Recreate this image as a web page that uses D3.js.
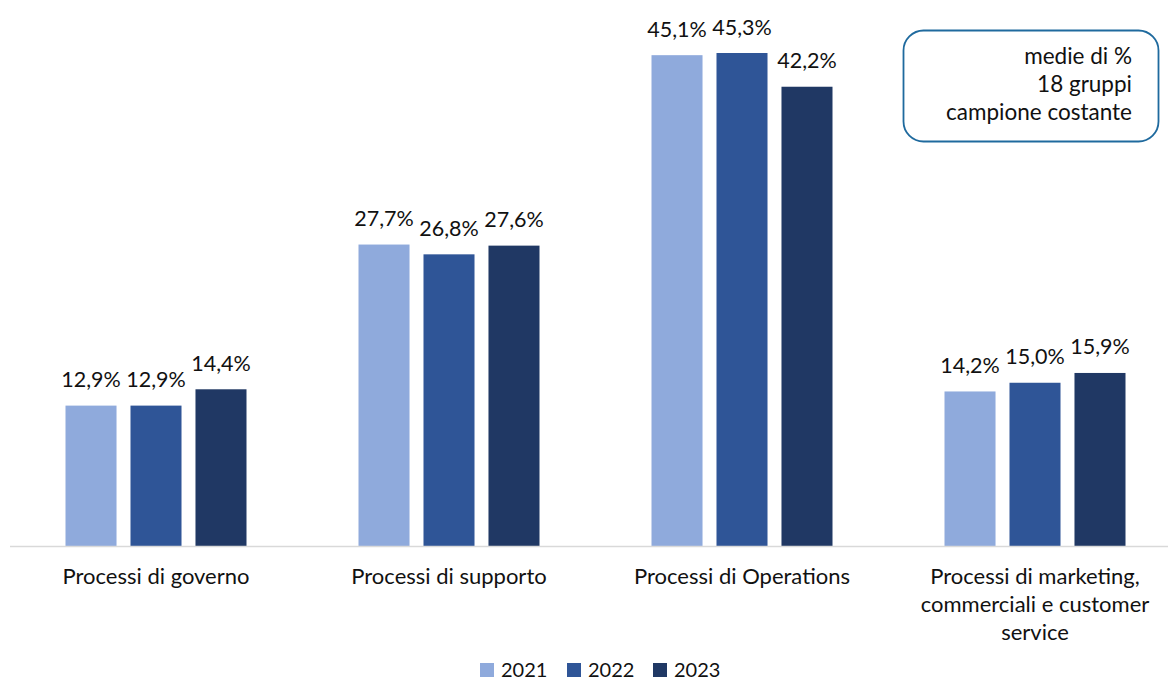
<!DOCTYPE html>
<html><head><meta charset="utf-8">
<script src="https://cdn.jsdelivr.net/npm/d3@7"></script>
<style>body{margin:0;background:#fff}svg{display:block}text{font-family:Lato,"Open Sans",sans-serif;fill:#111}</style>
</head><body><svg id="c" width="1168" height="679"></svg>
<script>
const categories = [["Processi di governo"],["Processi di supporto"],["Processi di Operations"],["Processi di marketing,","commerciali e customer","service"]];
const years = ["2021","2022","2023"];
const v2021 = [12.9, 27.7, 45.1, 14.2];
const v2022 = [12.9, 26.8, 45.3, 15.0];
const v2023 = [14.4, 27.6, 42.2, 15.9];
const colors = ["#8FAADC","#2F5597","#203864"];
const noteLines = ["medie di %","18 gruppi","campione costante"];

const series = [v2021, v2022, v2023];
const svg = d3.select("#c");
const x0 = d3.scaleBand().domain(d3.range(categories.length)).range([9.5, 1181.5]).paddingInner(0).paddingOuter(0);
const x1 = d3.scaleBand().domain(years).range([-90.5, 90.5]).paddingInner(0.215);
const y = d3.scaleLinear().domain([0, 45.3]).range([546, 53]);
const fmt = v => d3.format(".1f")(v).replace(".", ",") + "%";

const g = svg.append("g");
categories.forEach((c, i) => {
  const cx = x0(i) + x0.bandwidth()/2;
  years.forEach((yr, j) => {
    const v = series[j][i];
    const bx = cx + x1(yr);
    g.append("rect").attr("x", bx).attr("y", y(v)).attr("width", x1.bandwidth()).attr("height", y(0)-y(v)).attr("fill", colors[j]);
    g.append("text").attr("x", bx + x1.bandwidth()/2).attr("y", y(v) - 18.5).attr("text-anchor","middle").attr("font-size", 21.5).text(fmt(v));
  });
  c.forEach((line, k) => {
    g.append("text").attr("x", cx).attr("y", 584 + k*28).attr("text-anchor","middle").attr("font-size", 22).text(line);
  });
});
svg.append("line").attr("x1", 10).attr("x2", 1168).attr("y1", 546.5).attr("y2", 546.5).attr("stroke", "#d9d9d9").attr("stroke-width", 1.5);

// legend
const lg = svg.append("g");
const lx = [480, 567, 653];
years.forEach((yr, j) => {
  lg.append("rect").attr("x", lx[j]).attr("y", 663).attr("width", 14).attr("height", 14).attr("fill", colors[j]);
  lg.append("text").attr("x", lx[j] + 21).attr("y", 676.5).attr("font-size", 20).text(yr);
});

// note box
svg.append("rect").attr("x", 903.5).attr("y", 30.5).attr("width", 255).attr("height", 111).attr("rx", 20).attr("fill", "#fff").attr("stroke", "#1F6A9E").attr("stroke-width", 1.8);
noteLines.forEach((t, k) => {
  svg.append("text").attr("x", 1132).attr("y", 64 + k*28).attr("text-anchor","end").attr("font-size", 22.5).text(t);
});
</script></body></html>
